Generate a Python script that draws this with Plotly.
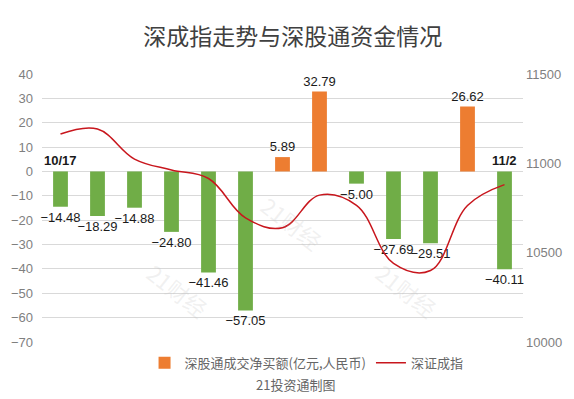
import plotly.graph_objects as go

dates = ["10/17", "10/18", "10/19", "10/20", "10/23", "10/24", "10/25",
         "10/26", "10/27", "10/30", "10/31", "11/1", "11/2"]
net_buy = [-14.48, -18.29, -14.88, -24.80, -41.46, -57.05, 5.89,
           32.79, -5.00, -27.69, -29.51, 26.62, -40.11]
szci = [11164, 11192, 11024, 10963, 10915, 10695, 10640,
        10822, 10765, 10440, 10400, 10764, 10881]

left_ticks = list(range(-70, 41, 10))
left_labels = [str(v).replace("-", "\u2212") for v in left_ticks]
right_ticks = [10000, 10500, 11000, 11500]
right_labels = ["10000", "10500", "11000", "11500"]

ORANGE = "#ED7D31"
GREEN = "#70AD47"
RED = "#C8161D"
FONT = "Liberation Sans, Noto Sans CJK SC, sans-serif"
CJK = "Noto Sans CJK SC, sans-serif"


def fmt(v):
    return f"{v:.2f}".replace("-", "\u2212")


pos_y = [v if v > 0 else None for v in net_buy]
neg_y = [v if v <= 0 else None for v in net_buy]
pos_t = [fmt(v) if v > 0 else "" for v in net_buy]
neg_t = [fmt(v) if v <= 0 else "" for v in net_buy]

fig = go.Figure()
fig.add_trace(go.Bar(
    x=dates, y=pos_y, text=pos_t, textposition="outside", cliponaxis=False,
    constraintext="none",
    marker=dict(color=ORANGE, line=dict(width=0)), width=0.4,
    name="深股通成交净买额(亿元,人民币)",
    textfont=dict(family=FONT, size=13, color="#1a1a1a"),
))
fig.add_trace(go.Bar(
    x=dates, y=neg_y, text=neg_t, textposition="outside", cliponaxis=False,
    constraintext="none",
    marker=dict(color=GREEN, line=dict(width=0)), width=0.4,
    showlegend=False,
    textfont=dict(family=FONT, size=13, color="#1a1a1a"),
))
fig.add_trace(go.Scatter(
    x=dates, y=szci, yaxis="y2", mode="lines", name="深证成指",
    line=dict(color=RED, width=1.5, shape="spline", smoothing=1.1),
))

annotations = [
    dict(x=dates[0], y=0, yref="y", text="<b>10/17</b>", showarrow=False,
         yanchor="bottom", yshift=1, font=dict(family=FONT, size=13, color="#1a1a1a")),
    dict(x=dates[-1], y=0, yref="y", text="<b>11/2</b>", showarrow=False,
         yanchor="bottom", yshift=1, font=dict(family=FONT, size=13, color="#1a1a1a")),
    dict(x=0.526, y=-0.157, xref="paper", yref="paper", text="21投资通制图",
         showarrow=False, yanchor="middle",
         font=dict(family=CJK, size=13, color="#666666")),
]
for wx, wy in [(0.2, 0.06), (0.52, 0.31), (0.84, 0.06)]:
    annotations.append(dict(
        x=wx, y=wy, xref="paper", yref="paper", text="21财经", showarrow=False,
        textangle=38, font=dict(family=CJK, size=22, color="rgba(190,190,190,0.22)"),
    ))

fig.update_layout(
    width=574, height=399,
    margin=dict(l=42, r=51, t=74, b=57),
    paper_bgcolor="white", plot_bgcolor="white",
    barmode="relative",
    title=dict(text="深成指走势与深股通资金情况", x=0.51, xanchor="center",
               y=0.907, yanchor="middle",
               font=dict(family=CJK, size=23, color="#404040")),
    xaxis=dict(type="category", showticklabels=False, showgrid=False,
               zeroline=False, showline=False, ticks=""),
    yaxis=dict(range=[-70, 40], tickvals=left_ticks, ticktext=left_labels,
               showgrid=True, gridcolor="#d9d9d9", gridwidth=1, zeroline=True,
               zerolinecolor="#d9d9d9", zerolinewidth=1, showline=False,
               tickfont=dict(family=FONT, size=13, color="#7f7f7f"),
               ticks="", ticklabelstandoff=8),
    yaxis2=dict(range=[10000, 11500], tickvals=right_ticks, ticktext=right_labels,
                overlaying="y", side="right", showgrid=False, zeroline=False,
                showline=False,
                tickfont=dict(family=FONT, size=13, color="#7f7f7f"),
                ticks="", ticklabelstandoff=2),
    legend=dict(orientation="h", x=0.55, xanchor="center", y=-0.078,
                yanchor="middle", font=dict(family=CJK, size=13, color="#666666"),
                traceorder="normal"),
    annotations=annotations,
)

fig.write_html("out.html", config={"displayModeBar": False},
               post_script="document.body.style.margin='0';document.body.style.padding='0';")
